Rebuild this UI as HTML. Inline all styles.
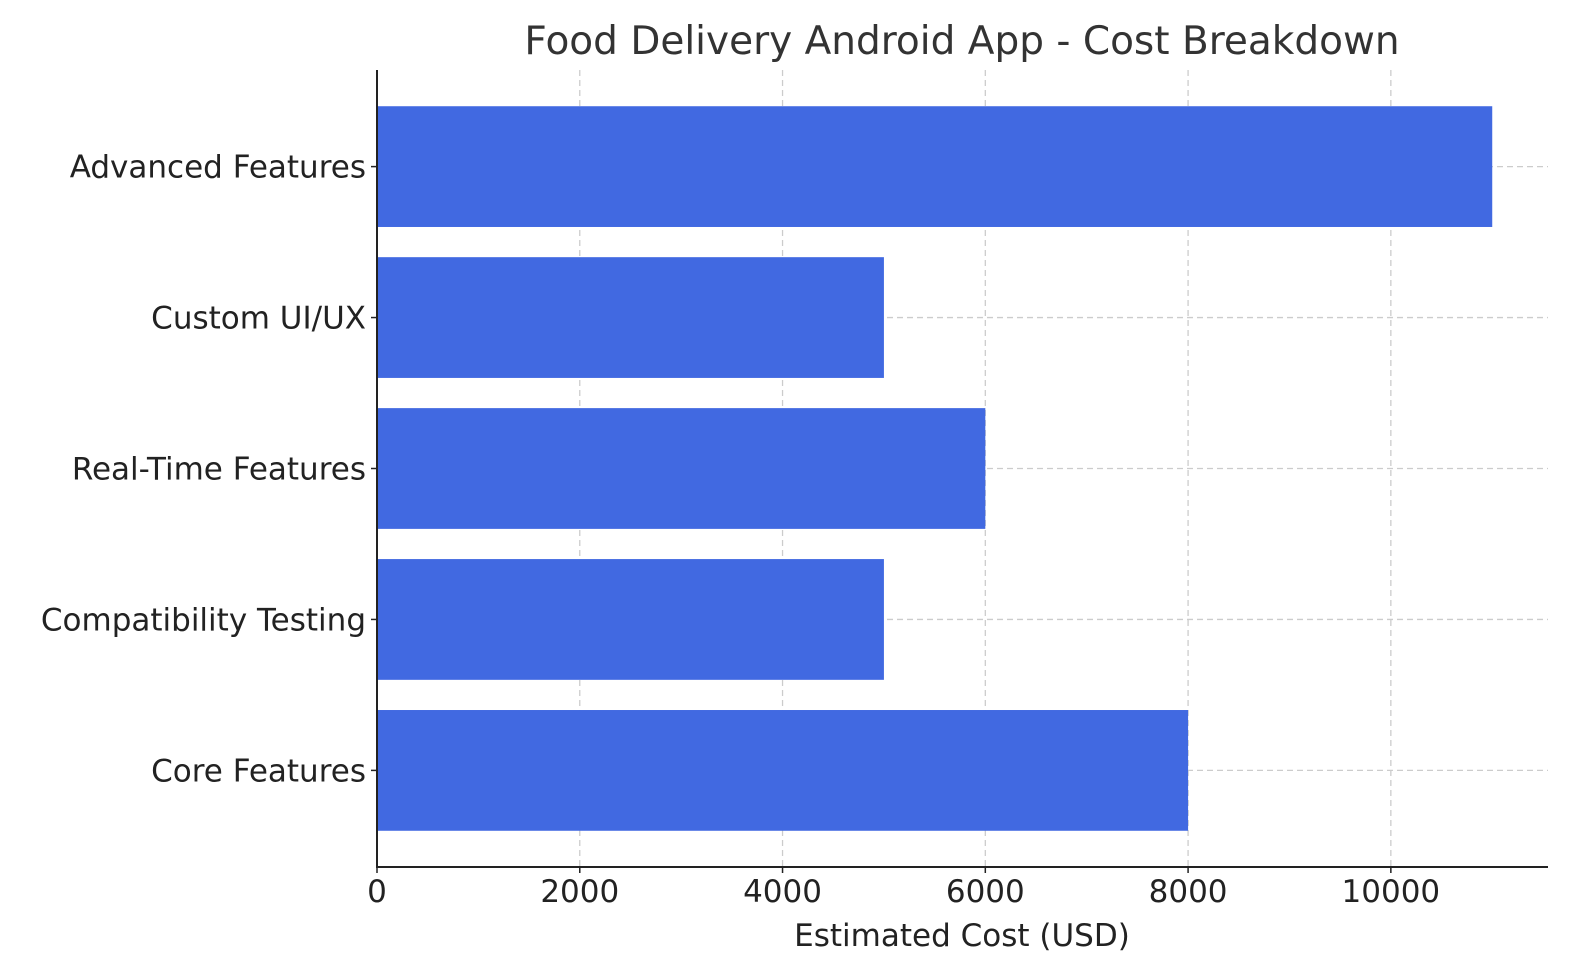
<!DOCTYPE html>
<html><head><meta charset="utf-8"><style>
body{margin:0;background:#fff;}
svg{display:block;font-family:"DejaVu Sans","Liberation Sans",sans-serif;}
</style></head><body>
<svg id="chart" width="1580" height="980" xmlns="http://www.w3.org/2000/svg">
<text x="962" y="54" text-anchor="middle" font-size="39" fill="#333">Food Delivery Android App - Cost Breakdown</text>
<g id="grid"></g><g id="bars"></g><g id="axes"></g>
<text x="962" y="946" text-anchor="middle" font-size="31" fill="#222">Estimated Cost (USD)</text>
</svg>
<script>
const categories = ["Core Features","Compatibility Testing","Real-Time Features","Custom UI/UX","Advanced Features"];
const costs = [8000,5000,6000,5000,11000];
const xTicks = [0,2000,4000,6000,8000,10000];
const NS="http://www.w3.org/2000/svg";
const L=377,R=1548,B=867,T=70;
const xMax=Math.max(...costs)*1.05;
const n=categories.length;
const yMin=-0.4-(n-0.2)*0.05, yMax=(n-1)+0.4+(n-0.2)*0.05;
const xs=v=>L+v/xMax*(R-L);
const ys=v=>B-(v-yMin)/(yMax-yMin)*(B-T);
function mk(tag,attrs,parent){const e=document.createElementNS(NS,tag);for(const k in attrs)e.setAttribute(k,attrs[k]);parent.appendChild(e);return e;}
const grid=document.getElementById('grid'),bars=document.getElementById('bars'),axes=document.getElementById('axes');
xTicks.forEach(t=>{
  const g=mk('line',{x1:xs(t),x2:xs(t),y1:T,y2:B,stroke:'#ccc','stroke-dasharray':'6,4','stroke-width':1.3},grid);
  
  
  mk('line',{x1:xs(t),x2:xs(t),y1:B,y2:B+6,stroke:'#222','stroke-width':1.5},axes);
  const tx=mk('text',{x:xs(t),y:B+35,'text-anchor':'middle','font-size':31,fill:'#222'},axes);
  tx.textContent=t;
  
  
});
const bh=(ys(0)-ys(0.8));
categories.forEach((c,i)=>{
  const y=ys(i);
  const g=mk('line',{x1:L,x2:R,y1:y,y2:y,stroke:'#ccc','stroke-dasharray':'6,4','stroke-width':1.3},grid);
  
  
  const r=mk('rect',{x:L,y:y-bh/2,width:xs(costs[i])-L,height:bh,fill:'#4169E1'},bars);
  
  
  mk('line',{x1:L-6,x2:L,y1:y,y2:y,stroke:'#222','stroke-width':1.5},axes);
  const tx=mk('text',{x:L-11,y:y+11,'text-anchor':'end','font-size':31,fill:'#222'},axes);
  tx.textContent=c;
  
  
});
const ls=mk('line',{x1:L,x2:L,y1:T,y2:B+1,stroke:'#222','stroke-width':2},axes);


const bs=mk('line',{x1:L-1,x2:R,y1:B,y2:B,stroke:'#222','stroke-width':2},axes);


</script>
</body></html>
